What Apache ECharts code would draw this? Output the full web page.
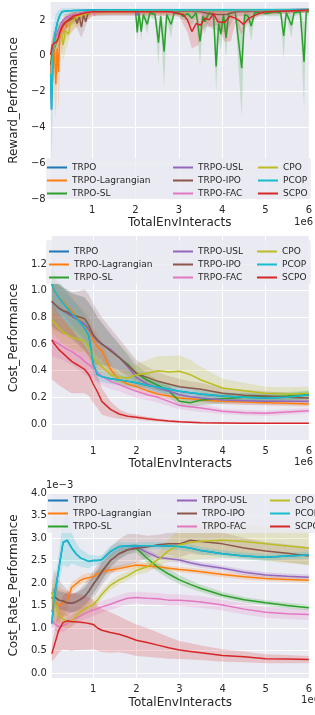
<!DOCTYPE html>
<html>
<head>
<meta charset="utf-8">
<script src="https://cdn.jsdelivr.net/npm/echarts@6/dist/echarts.min.js"></script>
<style>
html, body { margin: 0; padding: 0; background: #fff; }
#chart { width: 315px; height: 715px; }
</style>
</head>
<body>
<div id="chart"></div>
<script>
var names = ['TRPO', 'TRPO-Lagrangian', 'TRPO-SL', 'TRPO-USL', 'TRPO-IPO', 'TRPO-FAC', 'CPO', 'PCOP', 'SCPO'];
var colors = ['#1f77b4', '#ff7f0e', '#2ca02c', '#9467bd', '#8c564b', '#e377c2', '#bcbd22', '#17becf', '#d62728'];

var xTicks = [1, 2, 3, 4, 5, 6];
var rewardTicks = [-8, -6, -4, -2, 0, 2];
var costTicks = [0, 0.2, 0.4, 0.6, 0.8, 1.0, 1.2];
var rateTicks = [0, 0.5, 1.0, 1.5, 2.0, 2.5, 3.0, 3.5, 4.0];

// ---- Reward_Performance: [x (1e6), reward]
var rewardPCOP = [[0.04, -1.0], [0.06, -3.0], [0.08, -1.4], [0.1, 0.3], [0.14, 1.2], [0.2, 1.9], [0.25, 2.25], [0.3, 2.45], [0.4, 2.5], [0.6, 2.52], [1.0, 2.56], [1.5, 2.55], [2.0, 2.57], [2.5, 2.56], [3.0, 2.57], [3.5, 2.56], [4.0, 2.57], [4.5, 2.56], [5.0, 2.57], [5.5, 2.57], [6.0, 2.58]];
var rewardTRPO = rewardPCOP;
var rewardLag = [[0.04, -1.0], [0.07, 0.3], [0.1, 0.6], [0.13, 0.2], [0.16, -1.6], [0.19, 0.4], [0.22, -0.9], [0.25, 1.1], [0.3, 1.4], [0.35, 1.9], [0.4, 1.6], [0.45, 2.0], [0.55, 2.1], [0.7, 2.25], [0.85, 2.35], [1.0, 2.45], [1.3, 2.5], [2.0, 2.52], [3.0, 2.53], [4.0, 2.52], [5.0, 2.53], [6.0, 2.54]];
var rewardSL = [[0.04, -0.5], [0.1, 0.5], [0.2, 1.2], [0.3, 1.8], [0.4, 2.1], [0.6, 2.3], [0.8, 2.4], [1.0, 2.5], [1.5, 2.5], [2.0, 2.5], [2.04, 1.3], [2.08, 2.4], [2.13, 1.35], [2.18, 2.3], [2.27, 1.75], [2.33, 2.4], [2.45, 2.3], [2.53, 0.73], [2.58, 2.2], [2.66, 0.23], [2.72, 2.3], [2.82, 1.75], [2.9, 2.45], [3.0, 2.4], [3.1, 2.2], [3.2, 2.35], [3.3, 2.1], [3.4, 2.4], [3.49, 0.8], [3.55, 2.2], [3.6, 1.9], [3.7, 2.4], [3.8, 2.3], [3.86, -0.6], [3.92, 1.8], [3.97, 1.2], [4.03, 2.3], [4.09, 1.0], [4.15, 2.35], [4.3, 2.45], [4.45, -0.7], [4.52, 2.3], [4.6, 2.2], [4.67, 1.65], [4.75, 2.4], [4.9, 2.45], [5.0, 2.35], [5.2, 2.45], [5.35, 2.4], [5.42, 1.1], [5.48, 2.4], [5.6, 1.7], [5.66, 2.4], [5.8, 2.45], [5.89, -0.35], [5.94, 2.4], [6.0, 2.5]];
var rewardUSL = [[0.04, -1.0], [0.1, 0.5], [0.2, 1.3], [0.3, 1.9], [0.4, 2.15], [0.6, 2.3], [0.8, 2.42], [1.0, 2.5], [1.5, 2.52], [2.0, 2.5], [2.03, 2.25], [2.07, 2.5], [3.0, 2.52], [4.0, 2.53], [5.0, 2.53], [6.0, 2.54]];
var rewardIPO = [[0.04, -0.5], [0.1, 0.2], [0.2, 1.0], [0.3, 1.6], [0.4, 1.9], [0.5, 2.0], [0.6, 2.15], [0.65, 1.8], [0.7, 2.2], [0.75, 1.6], [0.8, 2.3], [0.85, 1.9], [0.9, 2.35], [1.0, 2.45], [1.5, 2.5], [2.0, 2.5], [3.0, 2.5], [3.5, 2.45], [3.7, 2.35], [3.9, 2.3], [4.1, 2.3], [4.3, 2.45], [5.0, 2.5], [6.0, 2.52]];
var rewardFAC = [[0.04, -1.2], [0.1, 0.3], [0.2, 1.2], [0.3, 1.8], [0.4, 2.1], [0.6, 2.3], [0.8, 2.4], [1.0, 2.48], [1.05, 2.25], [1.1, 2.5], [2.0, 2.52], [3.0, 2.53], [4.0, 2.52], [5.0, 2.53], [6.0, 2.54]];
var rewardCPO = [[0.04, -1.2], [0.08, -0.2], [0.12, 0.5], [0.2, 1.0], [0.28, 1.3], [0.33, 0.6], [0.38, 1.4], [0.45, 1.2], [0.5, 1.8], [0.6, 2.1], [0.8, 2.3], [1.0, 2.45], [1.5, 2.52], [2.0, 2.53], [3.0, 2.54], [4.0, 2.54], [5.0, 2.55], [6.0, 2.55]];
var rewardSCPO = [[0.04, 0.05], [0.08, 0.6], [0.12, 0.7], [0.18, 0.8], [0.22, 1.0], [0.28, 1.5], [0.35, 1.8], [0.45, 2.0], [0.55, 2.2], [0.7, 2.3], [0.85, 2.4], [1.0, 2.45], [1.5, 2.45], [2.0, 2.45], [2.5, 2.45], [2.8, 2.45], [3.0, 2.35], [3.1, 2.3], [3.2, 2.0], [3.3, 1.35], [3.4, 1.8], [3.5, 1.7], [3.6, 2.1], [3.7, 2.0], [3.8, 2.35], [3.9, 1.9], [4.05, 1.85], [4.18, 2.2], [4.3, 2.1], [4.4, 1.95], [4.49, 1.75], [4.62, 2.1], [4.84, 2.35], [5.0, 2.45], [5.5, 2.5], [6.0, 2.55]];

// reward spread: [x, low, high]
var rewardPCOPBand = [[0.04, -2.5, 0.5], [0.06, -6.0, -0.5], [0.08, -4.0, 0.5], [0.1, -1.5, 1.5], [0.15, 0.3, 2.3], [0.2, 1.2, 2.5], [0.3, 2.2, 2.65], [0.5, 2.35, 2.65], [1.0, 2.45, 2.62], [6.0, 2.45, 2.65]];
var rewardLagBand = [[0.04, -2.5, 0.5], [0.1, -1.5, 1.5], [0.16, -3.5, 0.2], [0.2, -1.0, 1.4], [0.22, -3.0, 0.8], [0.27, -0.3, 1.8], [0.35, 0.8, 2.3], [0.5, 1.3, 2.4], [0.8, 1.9, 2.55], [1.0, 2.2, 2.6], [1.5, 2.35, 2.6], [6.0, 2.4, 2.6]];
var rewardCPOBand = [[0.04, -2.0, -0.3], [0.1, -0.8, 1.0], [0.2, 0.3, 1.6], [0.28, 0.6, 1.9], [0.33, -0.3, 1.5], [0.4, 0.4, 1.9], [0.5, 1.2, 2.2], [0.7, 1.9, 2.45], [1.0, 2.3, 2.6], [6.0, 2.45, 2.62]];
var rewardIPOBand = [[0.04, -1.5, 0.5], [0.1, -0.8, 1.2], [0.2, 0.3, 1.7], [0.4, 1.5, 2.3], [0.6, 1.8, 2.45], [0.75, 1.0, 2.3], [0.9, 2.0, 2.55], [1.0, 2.2, 2.6], [3.5, 2.3, 2.6], [3.7, 1.6, 2.55], [3.9, 1.4, 2.55], [4.1, 1.3, 2.55], [4.3, 2.2, 2.6], [6.0, 2.4, 2.62]];
var rewardSCPOBand = [[0.04, -0.3, 0.4], [0.1, 0.3, 0.9], [0.3, 1.1, 1.9], [0.5, 1.8, 2.4], [1.0, 2.3, 2.6], [3.0, 2.2, 2.5], [3.2, 1.3, 2.4], [3.3, 0.4, 2.3], [3.45, 0.6, 2.4], [3.6, 1.6, 2.5], [3.9, 1.7, 2.5], [4.05, 0.8, 2.5], [4.2, 0.8, 2.5], [4.3, 1.8, 2.5], [4.45, 1.2, 2.4], [4.6, 1.8, 2.5], [4.9, 2.3, 2.6], [6.0, 2.4, 2.65]];
var rewardSLBand = [[2.0, 2.35, 2.6], [2.04, 0.8, 1.9], [2.08, 2.2, 2.55], [2.13, 0.8, 1.9], [2.18, 2.1, 2.5], [2.27, 1.2, 2.2], [2.33, 2.2, 2.55], [2.45, 2.0, 2.5], [2.53, -0.5, 1.6], [2.58, 1.9, 2.45], [2.66, -1.8, 1.6], [2.72, 2.0, 2.5], [2.82, 1.0, 2.2], [2.9, 2.3, 2.55], [3.3, 1.7, 2.4], [3.4, 2.2, 2.55], [3.49, -0.6, 1.8], [3.55, 1.8, 2.45], [3.6, 1.2, 2.3], [3.7, 2.2, 2.55], [3.8, 2.0, 2.5], [3.86, -2.0, 0.9], [3.92, 1.0, 2.3], [3.97, 0.3, 1.9], [4.03, 2.0, 2.5], [4.09, -0.2, 1.9], [4.15, 2.1, 2.55], [4.3, 2.3, 2.55], [4.45, -3.4, 1.4], [4.52, 2.0, 2.5], [4.6, 1.8, 2.5], [4.67, 0.8, 2.2], [4.75, 2.2, 2.55], [5.35, 2.2, 2.55], [5.42, -0.2, 2.0], [5.48, 2.2, 2.55], [5.6, 1.0, 2.3], [5.66, 2.2, 2.55], [5.8, 2.3, 2.6], [5.89, -3.0, 1.8], [5.94, 2.2, 2.55], [6.0, 2.3, 2.6]];

// ---- shared x samples (1e6) for the cost panels
var gridX = [0.04, 0.1, 0.2, 0.3, 0.4, 0.5, 0.6, 0.7, 0.8, 0.9, 1.0, 1.1, 1.2, 1.4, 1.6, 1.8, 2.0, 2.25, 2.5, 2.75, 3.0, 3.25, 3.5, 4.0, 4.5, 5.0, 5.5, 6.0];

// ---- Cost_Performance (mean, std)
var costPCOP = [1.05, 1.0, 0.95, 0.91, 0.87, 0.83, 0.8, 0.76, 0.72, 0.66, 0.45, 0.37, 0.355, 0.34, 0.33, 0.32, 0.31, 0.29, 0.275, 0.26, 0.245, 0.235, 0.225, 0.21, 0.2, 0.195, 0.2, 0.22];
var costPCOPStd = [0.17, 0.15, 0.13, 0.12, 0.12, 0.11, 0.11, 0.1, 0.1, 0.1, 0.08, 0.05, 0.04, 0.04, 0.04, 0.04, 0.04, 0.04, 0.04, 0.035, 0.035, 0.035, 0.03, 0.03, 0.03, 0.03, 0.03, 0.03];
var costTRPO = costPCOP;
var costLag = [1.05, 1.0, 0.95, 0.92, 0.88, 0.85, 0.81, 0.78, 0.74, 0.7, 0.63, 0.58, 0.55, 0.41, 0.33, 0.3, 0.28, 0.25, 0.225, 0.21, 0.195, 0.19, 0.18, 0.17, 0.165, 0.16, 0.155, 0.15];
var costLagStd = [0.12, 0.12, 0.11, 0.1, 0.1, 0.1, 0.1, 0.1, 0.1, 0.1, 0.09, 0.08, 0.07, 0.05, 0.04, 0.03, 0.03, 0.03, 0.03, 0.025, 0.025, 0.025, 0.025, 0.02, 0.02, 0.02, 0.02, 0.02];
var costSL = [0.92, 0.9, 0.87, 0.85, 0.83, 0.81, 0.79, 0.77, 0.75, 0.71, 0.66, 0.62, 0.6, 0.55, 0.5, 0.45, 0.38, 0.33, 0.29, 0.25, 0.17, 0.16, 0.18, 0.19, 0.2, 0.205, 0.21, 0.22];
var costSLStd = [0.18, 0.18, 0.17, 0.17, 0.17, 0.17, 0.18, 0.19, 0.2, 0.2, 0.2, 0.18, 0.16, 0.12, 0.1, 0.08, 0.06, 0.05, 0.04, 0.04, 0.04, 0.04, 0.04, 0.035, 0.035, 0.03, 0.03, 0.03];
var costUSL = [0.92, 0.9, 0.87, 0.85, 0.83, 0.81, 0.79, 0.77, 0.75, 0.71, 0.66, 0.62, 0.6, 0.56, 0.5, 0.43, 0.35, 0.3, 0.27, 0.245, 0.22, 0.205, 0.195, 0.18, 0.175, 0.17, 0.17, 0.17];
var costUSLStd = [0.18, 0.18, 0.17, 0.17, 0.17, 0.17, 0.18, 0.19, 0.2, 0.2, 0.2, 0.18, 0.16, 0.12, 0.1, 0.08, 0.06, 0.04, 0.04, 0.035, 0.03, 0.03, 0.03, 0.03, 0.03, 0.03, 0.03, 0.03];
var costIPO = [0.92, 0.9, 0.87, 0.85, 0.84, 0.82, 0.81, 0.8, 0.79, 0.74, 0.67, 0.63, 0.6, 0.55, 0.5, 0.44, 0.38, 0.35, 0.32, 0.3, 0.28, 0.27, 0.26, 0.23, 0.215, 0.21, 0.2, 0.195];
var costIPOStd = [0.2, 0.2, 0.18, 0.18, 0.17, 0.17, 0.18, 0.2, 0.22, 0.23, 0.23, 0.22, 0.2, 0.17, 0.14, 0.12, 0.1, 0.08, 0.07, 0.06, 0.06, 0.05, 0.05, 0.04, 0.04, 0.035, 0.035, 0.035];
var costFAC = [0.63, 0.62, 0.6, 0.58, 0.56, 0.545, 0.52, 0.5, 0.47, 0.445, 0.42, 0.39, 0.36, 0.32, 0.295, 0.27, 0.245, 0.22, 0.2, 0.17, 0.14, 0.13, 0.12, 0.095, 0.085, 0.08, 0.09, 0.1];
var costFACStd = [0.12, 0.12, 0.11, 0.1, 0.1, 0.1, 0.1, 0.1, 0.1, 0.09, 0.09, 0.08, 0.07, 0.06, 0.05, 0.05, 0.05, 0.04, 0.04, 0.035, 0.03, 0.03, 0.03, 0.02, 0.02, 0.02, 0.02, 0.02];
var costCPO = [0.78, 0.76, 0.72, 0.69, 0.67, 0.65, 0.64, 0.63, 0.62, 0.57, 0.5, 0.46, 0.43, 0.37, 0.35, 0.345, 0.37, 0.38, 0.4, 0.39, 0.395, 0.37, 0.33, 0.27, 0.25, 0.23, 0.225, 0.23];
var costCPOStd = [0.1, 0.1, 0.09, 0.09, 0.09, 0.09, 0.09, 0.09, 0.08, 0.08, 0.07, 0.06, 0.06, 0.05, 0.05, 0.06, 0.08, 0.1, 0.11, 0.12, 0.12, 0.11, 0.1, 0.07, 0.06, 0.05, 0.05, 0.05];
var costSCPO = [0.63, 0.6, 0.56, 0.53, 0.5, 0.47, 0.45, 0.43, 0.41, 0.37, 0.3, 0.24, 0.17, 0.11, 0.075, 0.058, 0.05, 0.04, 0.03, 0.022, 0.016, 0.013, 0.01, 0.008, 0.006, 0.005, 0.005, 0.005];
var costSCPOStd = [0.3, 0.28, 0.27, 0.26, 0.25, 0.24, 0.22, 0.2, 0.18, 0.16, 0.14, 0.12, 0.1, 0.06, 0.035, 0.025, 0.018, 0.015, 0.012, 0.01, 0.008, 0.008, 0.007, 0.006, 0.005, 0.005, 0.005, 0.005];

// ---- Cost_Rate_Performance, in units of 1e-3 (mean, std)
var ratePCOP = [1.1, 1.7, 2.3, 2.9, 2.95, 2.78, 2.65, 2.56, 2.52, 2.48, 2.5, 2.5, 2.52, 2.7, 2.81, 2.82, 2.82, 2.83, 2.83, 2.82, 2.81, 2.78, 2.72, 2.65, 2.6, 2.57, 2.6, 2.62];
var ratePCOPStd = [0.15, 0.3, 0.35, 0.5, 0.6, 0.35, 0.25, 0.2, 0.18, 0.15, 0.12, 0.1, 0.1, 0.12, 0.1, 0.08, 0.08, 0.08, 0.08, 0.08, 0.08, 0.08, 0.08, 0.08, 0.08, 0.08, 0.08, 0.08];
var rateTRPO = ratePCOP;
var rateLag = [1.35, 1.6, 1.5, 1.55, 1.62, 1.9, 1.98, 2.06, 2.1, 2.12, 2.14, 2.2, 2.25, 2.29, 2.32, 2.36, 2.4, 2.38, 2.36, 2.33, 2.3, 2.28, 2.25, 2.19, 2.14, 2.1, 2.08, 2.06];
var rateLagStd = [0.35, 0.5, 0.4, 0.3, 0.2, 0.12, 0.1, 0.1, 0.1, 0.1, 0.08, 0.08, 0.08, 0.07, 0.07, 0.07, 0.07, 0.06, 0.06, 0.06, 0.06, 0.06, 0.06, 0.06, 0.06, 0.06, 0.06, 0.06];
var rateSL = [1.66, 1.7, 1.62, 1.6, 1.56, 1.55, 1.58, 1.63, 1.7, 1.82, 1.97, 2.1, 2.25, 2.5, 2.65, 2.74, 2.77, 2.55, 2.35, 2.2, 2.07, 1.97, 1.88, 1.73, 1.63, 1.56, 1.5, 1.45];
var rateSLStd = [0.2, 0.2, 0.2, 0.2, 0.2, 0.2, 0.2, 0.2, 0.2, 0.2, 0.2, 0.2, 0.2, 0.15, 0.12, 0.1, 0.1, 0.1, 0.1, 0.1, 0.1, 0.09, 0.08, 0.07, 0.06, 0.06, 0.06, 0.06];
var rateUSL = [1.66, 1.7, 1.62, 1.6, 1.56, 1.55, 1.58, 1.63, 1.7, 1.82, 1.97, 2.1, 2.25, 2.5, 2.65, 2.74, 2.8, 2.68, 2.57, 2.54, 2.51, 2.45, 2.4, 2.33, 2.24, 2.18, 2.15, 2.13];
var rateUSLStd = [0.2, 0.2, 0.2, 0.2, 0.2, 0.2, 0.2, 0.2, 0.2, 0.2, 0.2, 0.2, 0.2, 0.15, 0.12, 0.1, 0.08, 0.07, 0.06, 0.06, 0.06, 0.06, 0.06, 0.06, 0.06, 0.06, 0.06, 0.06];
var rateIPO = [1.66, 1.7, 1.62, 1.6, 1.56, 1.55, 1.58, 1.63, 1.7, 1.82, 1.97, 2.1, 2.25, 2.5, 2.65, 2.74, 2.77, 2.8, 2.85, 2.87, 2.87, 2.95, 2.92, 2.87, 2.78, 2.71, 2.66, 2.6];
var rateIPOStd = [0.35, 0.6, 0.45, 0.35, 0.28, 0.22, 0.22, 0.25, 0.28, 0.3, 0.3, 0.3, 0.3, 0.3, 0.32, 0.35, 0.32, 0.25, 0.22, 0.25, 0.3, 0.3, 0.3, 0.25, 0.22, 0.2, 0.2, 0.2];
var rateFAC = [1.2, 1.1, 1.03, 1.05, 1.1, 1.17, 1.22, 1.27, 1.32, 1.36, 1.4, 1.43, 1.47, 1.53, 1.6, 1.66, 1.68, 1.66, 1.65, 1.62, 1.62, 1.6, 1.58, 1.51, 1.42, 1.35, 1.32, 1.3];
var rateFACStd = [0.15, 0.15, 0.14, 0.13, 0.13, 0.13, 0.13, 0.13, 0.13, 0.13, 0.13, 0.13, 0.13, 0.13, 0.13, 0.13, 0.13, 0.13, 0.13, 0.13, 0.13, 0.13, 0.13, 0.12, 0.12, 0.12, 0.12, 0.12];
var rateCPO = [1.8, 1.55, 1.3, 1.2, 1.14, 1.15, 1.27, 1.35, 1.42, 1.48, 1.52, 1.62, 1.75, 1.95, 2.07, 2.16, 2.28, 2.36, 2.52, 2.72, 2.85, 2.9, 2.93, 2.95, 2.92, 2.87, 2.82, 2.78];
var rateCPOStd = [0.3, 0.3, 0.2, 0.18, 0.15, 0.14, 0.13, 0.12, 0.12, 0.12, 0.12, 0.11, 0.1, 0.1, 0.1, 0.1, 0.1, 0.12, 0.15, 0.25, 0.35, 0.4, 0.4, 0.4, 0.38, 0.38, 0.38, 0.38];
var rateSCPO = [0.43, 0.62, 0.95, 1.12, 1.16, 1.14, 1.14, 1.13, 1.12, 1.1, 1.08, 1.0, 0.95, 0.9, 0.86, 0.8, 0.73, 0.68, 0.62, 0.56, 0.51, 0.48, 0.45, 0.39, 0.36, 0.32, 0.31, 0.3];
var rateSCPOStd = [0.18, 0.3, 0.5, 0.6, 0.65, 0.65, 0.63, 0.62, 0.6, 0.58, 0.55, 0.5, 0.48, 0.45, 0.4, 0.37, 0.35, 0.32, 0.28, 0.24, 0.2, 0.18, 0.16, 0.14, 0.12, 0.1, 0.09, 0.08];

var FONT = 'DejaVu Sans';
var TXT = '#262626';

function pairs(ys) {
    return gridX.map(function (x, i) { return [x, ys[i]]; });
}

function spread(ys, sd) {
    return gridX.map(function (x, i) { return [x, ys[i] - sd[i], ys[i] + sd[i]]; });
}

function lineSeries(panel, idx, data) {
    return {
        name: names[idx],
        type: 'line',
        xAxisIndex: panel,
        yAxisIndex: panel,
        data: data,
        symbol: 'none',
        showSymbol: false,
        silent: true,
        z: 3,
        itemStyle: { color: colors[idx] },
        lineStyle: { color: colors[idx], width: 1.5 }
    };
}

function bandSeries(panel, idx, tri, alpha) {
    return {
        type: 'custom',
        xAxisIndex: panel,
        yAxisIndex: panel,
        silent: true,
        clip: true,
        z: 2,
        data: [[tri[0][0], tri[0][1]]],
        renderItem: function (params, api) {
            var top = tri.map(function (p) { return api.coord([p[0], p[2]]); });
            var bottom = tri.map(function (p) { return api.coord([p[0], p[1]]); }).reverse();
            return {
                type: 'polygon',
                shape: { points: top.concat(bottom) },
                style: { fill: colors[idx], opacity: alpha }
            };
        }
    };
}

function xAxisFor(panel, gap) {
    return {
        type: 'value',
        gridIndex: panel,
        min: 0.04,
        max: 6,
        name: 'TotalEnvInteracts',
        nameLocation: 'middle',
        nameGap: gap,
        nameTextStyle: { fontSize: 12, color: TXT, fontFamily: FONT },
        axisLine: { show: false },
        axisTick: { show: false, customValues: xTicks },
        axisLabel: { customValues: xTicks, fontSize: 10, color: TXT, margin: 6, fontFamily: FONT },
        splitLine: { lineStyle: { color: '#ffffff', width: 1 } }
    };
}

function yAxisFor(panel, name, min, max, ticks, fmt, gap) {
    return {
        type: 'value',
        gridIndex: panel,
        min: min,
        max: max,
        name: name,
        nameLocation: 'middle',
        nameGap: gap,
        nameTextStyle: { fontSize: 12, color: TXT, fontFamily: FONT },
        axisLine: { show: false },
        axisTick: { show: false, customValues: ticks },
        axisLabel: { customValues: ticks, fontSize: 10, color: TXT, margin: 5, fontFamily: FONT, formatter: fmt },
        splitLine: { lineStyle: { color: '#ffffff', width: 1 } }
    };
}

function legendsFor(top, cols) {
    var out = [];
    for (var c = 0; c < 3; c++) {
        out.push({
            orient: 'vertical',
            left: cols[c],
            top: top,
            padding: 0,
            itemGap: 4,
            itemWidth: 20,
            itemHeight: 2,
            icon: 'rect',
            selectedMode: false,
            data: names.slice(c * 3, c * 3 + 3),
            textStyle: { fontSize: 9, color: TXT, fontFamily: FONT }
        });
    }
    return out;
}

var series = [];

// bands first, lines on top
var rewardBands = [[1, rewardLagBand], [2, rewardSLBand], [4, rewardIPOBand], [6, rewardCPOBand], [7, rewardPCOPBand], [8, rewardSCPOBand]];
rewardBands.forEach(function (b) { series.push(bandSeries(0, b[0], b[1], 0.2)); });

var costMeans = [costTRPO, costLag, costSL, costUSL, costIPO, costFAC, costCPO, costPCOP, costSCPO];
var costStds = [null, costLagStd, costSLStd, costUSLStd, costIPOStd, costFACStd, costCPOStd, costPCOPStd, costSCPOStd];
var rateMeans = [rateTRPO, rateLag, rateSL, rateUSL, rateIPO, rateFAC, rateCPO, ratePCOP, rateSCPO];
var rateStds = [null, rateLagStd, rateSLStd, rateUSLStd, rateIPOStd, rateFACStd, rateCPOStd, ratePCOPStd, rateSCPOStd];

for (var i = 0; i < names.length; i++) {
    if (costStds[i]) series.push(bandSeries(1, i, spread(costMeans[i], costStds[i]), 0.2));
    if (rateStds[i]) series.push(bandSeries(2, i, spread(rateMeans[i], rateStds[i]), 0.2));
}

var rewardLines = [rewardTRPO, rewardLag, rewardSL, rewardUSL, rewardIPO, rewardFAC, rewardCPO, rewardPCOP, rewardSCPO];
for (var k = 0; k < names.length; k++) {
    series.push(lineSeries(0, k, rewardLines[k]));
    series.push(lineSeries(1, k, pairs(costMeans[k])));
    series.push(lineSeries(2, k, pairs(rateMeans[k])));
}

var legendBg = 'rgba(234,234,242,0.8)';

var option = {
    animation: false,
    textStyle: { fontFamily: FONT },
    grid: [
        { left: 45, top: 2, width: 268, height: 197, show: true, backgroundColor: '#EAEAF2', borderWidth: 0 },
        { left: 45, top: 236, width: 268, height: 204, show: true, backgroundColor: '#EAEAF2', borderWidth: 0 },
        { left: 46, top: 493, width: 274, height: 185, show: true, backgroundColor: '#EAEAF2', borderWidth: 0 }
    ],
    xAxis: [xAxisFor(0, 18), xAxisFor(1, 18), xAxisFor(2, 19)],
    yAxis: [
        yAxisFor(0, 'Reward_Performance', -8, 3, rewardTicks, function (v) { return String(v).replace('-', '\u2212'); }, 22),
        yAxisFor(1, 'Cost_Performance', -0.12, 1.41, costTicks, function (v) { return v.toFixed(1); }, 24),
        yAxisFor(2, 'Cost_Rate_Performance', -0.11, 4.0, rateTicks, function (v) { return v.toFixed(1); }, 24)
    ],
    legend: legendsFor(163, [47, 173, 258])
        .concat(legendsFor(247, [49, 173, 257]))
        .concat(legendsFor(496, [48, 177, 270])),
    graphic: [
        { type: 'rect', z: 3, shape: { x: 46, y: 158, width: 265, height: 41, r: 2 }, style: { fill: legendBg } },
        { type: 'rect', z: 3, shape: { x: 46, y: 240, width: 265, height: 44, r: 2 }, style: { fill: legendBg } },
        { type: 'rect', z: 3, shape: { x: 47, y: 494, width: 275, height: 39, r: 2 }, style: { fill: legendBg } },
        { type: 'text', z: 5, x: 313, y: 222, style: { text: '1e6', align: 'right', verticalAlign: 'middle', fontSize: 10, fill: TXT, fontFamily: FONT } },
        { type: 'text', z: 5, x: 313, y: 462, style: { text: '1e6', align: 'right', verticalAlign: 'middle', fontSize: 10, fill: TXT, fontFamily: FONT } },
        { type: 'text', z: 5, x: 320, y: 700, style: { text: '1e6', align: 'right', verticalAlign: 'middle', fontSize: 10, fill: TXT, fontFamily: FONT } },
        { type: 'text', z: 5, x: 46, y: 485, style: { text: '1e\u22123', align: 'left', verticalAlign: 'middle', fontSize: 10, fill: TXT, fontFamily: FONT } }
    ],
    series: series
};

var chart = echarts.init(document.getElementById('chart'), null, { renderer: 'canvas' });
chart.setOption(option);
</script>
</body>
</html>
